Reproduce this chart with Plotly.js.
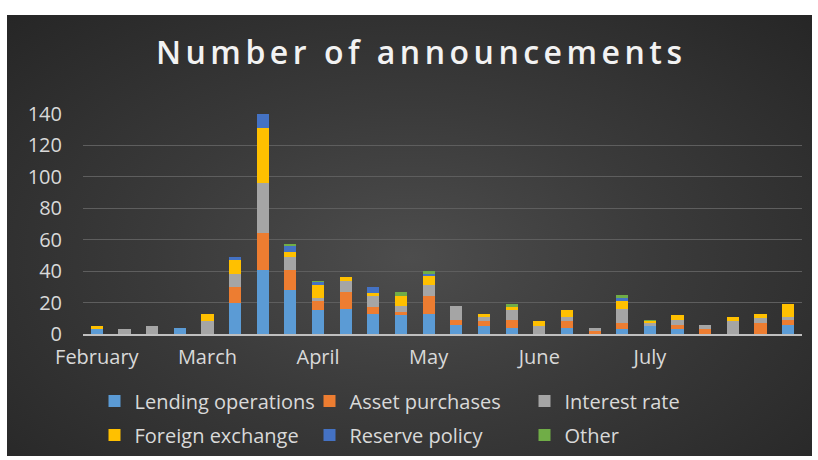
<!DOCTYPE html>
<html>
<head>
<meta charset="utf-8">
<script src="https://cdn.plot.ly/plotly-3.0.1.min.js"></script>
<style>
  html, body { margin:0; padding:0; background:#ffffff; }
  #bg { position:absolute; left:7px; top:15px; width:805px; height:441px;
        background: radial-gradient(ellipse at 50% 55%, #4d4d4d 0%, #3a3a3a 45%, #262626 100%); }
  #chart { position:absolute; left:0; top:0; width:818px; height:460px; }
  #chart .gtitle { letter-spacing:4.5px; }
</style>
</head>
<body>
<div id="bg"></div>
<div id="chart"></div>
<script>
const weeks = ['Wk 1','Wk 2','Wk 3','Wk 4','Wk 5','Wk 6','Wk 7','Wk 8','Wk 9','Wk 10','Wk 11','Wk 12','Wk 13',
               'Wk 14','Wk 15','Wk 16','Wk 17','Wk 18','Wk 19','Wk 20','Wk 21','Wk 22','Wk 23','Wk 24','Wk 25','Wk 26'];
const monthTickWeeks = ['Wk 1','Wk 5','Wk 9','Wk 13','Wk 17','Wk 21'];
const monthLabels = ['February','March','April','May','June','July'];

const lending  = [3,0,0,4,0,20,41,28,15,16,13,12,13,6,5,4,0,4,0,3,5,3,0,0,0,6];
const asset    = [0,0,0,0,0,10,23,13,6,11,4,2,11,3,3,5,0,4,2,4,0,3,3,0,7,3];
const interest = [0,3,5,0,8,8,32,8,2,7,7,4,7,9,3,6,5,3,2,9,2,3,3,8,3,2];
const fx       = [2,0,0,0,5,9,35,3,8,2,2,6,6,0,2,2,3,4,0,5,1,3,0,3,3,8];
const reserve  = [0,0,0,0,0,2,9,4,2,0,4,0,1,0,0,0,0,0,0,2,0,0,0,0,0,0];
const other    = [0,0,0,0,0,0,1,1,1,0,0,3,2,0,0,2,0,0,0,2,1,0,0,0,0,0];

const seriesNames = ['Lending operations','Asset purchases','Interest rate','Foreign exchange','Reserve policy','Other'];
const seriesVals = [lending, asset, interest, fx, reserve, other];
const seriesColors = ['#5B9BD5','#ED7D31','#A5A5A5','#FFC000','#4472C4','#70AD47'];
const seriesLegend = ['legend','legend','legend','legend2','legend2','legend2'];

const traces = seriesNames.map((n,i)=>({
  type:'bar', name:n, x:weeks, y:seriesVals[i], legend:seriesLegend[i],
  marker:{color:seriesColors[i], line:{width:0}},
  hoverinfo:'x+y+name'
}));

const fontFam = '"Open Sans", "Noto Sans", sans-serif';
const legendBase = {orientation:'h', xanchor:'left', yanchor:'top', traceorder:'normal',
  entrywidth:170, font:{size:20, color:'#d9d9d9'}, bgcolor:'rgba(0,0,0,0)',
  itemclick:false, itemdoubleclick:false};
const layout = {
  width:818, height:460,
  barmode:'stack', bargap:0.56,
  paper_bgcolor:'rgba(0,0,0,0)', plot_bgcolor:'rgba(0,0,0,0)',
  margin:{l:83, r:16, t:114, b:126, autoexpand:false},
  font:{family:fontFam, color:'#d9d9d9', size:20},
  title:{text:'Number of announcements', xref:'container', x:0.515, xanchor:'center',
         yref:'container', y:0.886, yanchor:'middle',
         font:{family:fontFam, size:32, color:'#f2f2f2', weight:600}},
  xaxis:{type:'category', tickmode:'array', tickvals:monthTickWeeks, ticktext:monthLabels,
         showgrid:false, showline:true, linecolor:'#bfbfbf', linewidth:2, ticks:'',
         tickfont:{size:20, color:'#d9d9d9'}, ticklabelstandoff:4, fixedrange:true, automargin:false},
  yaxis:{range:[0,140], dtick:20, showgrid:true, gridcolor:'#5e5e5e', gridwidth:1,
         zeroline:false, showline:false, ticks:'',
         tickfont:{size:20, color:'#d9d9d9'}, ticklabelstandoff:20, fixedrange:true, automargin:false},
  legend:Object.assign({}, legendBase, {x:0.016, y:-0.216}),
  legend2:Object.assign({}, legendBase, {x:0.016, y:-0.370}),
  showlegend:true
};
Plotly.newPlot('chart', traces, layout, {displayModeBar:false, staticPlot:true});
</script>
</body>
</html>
